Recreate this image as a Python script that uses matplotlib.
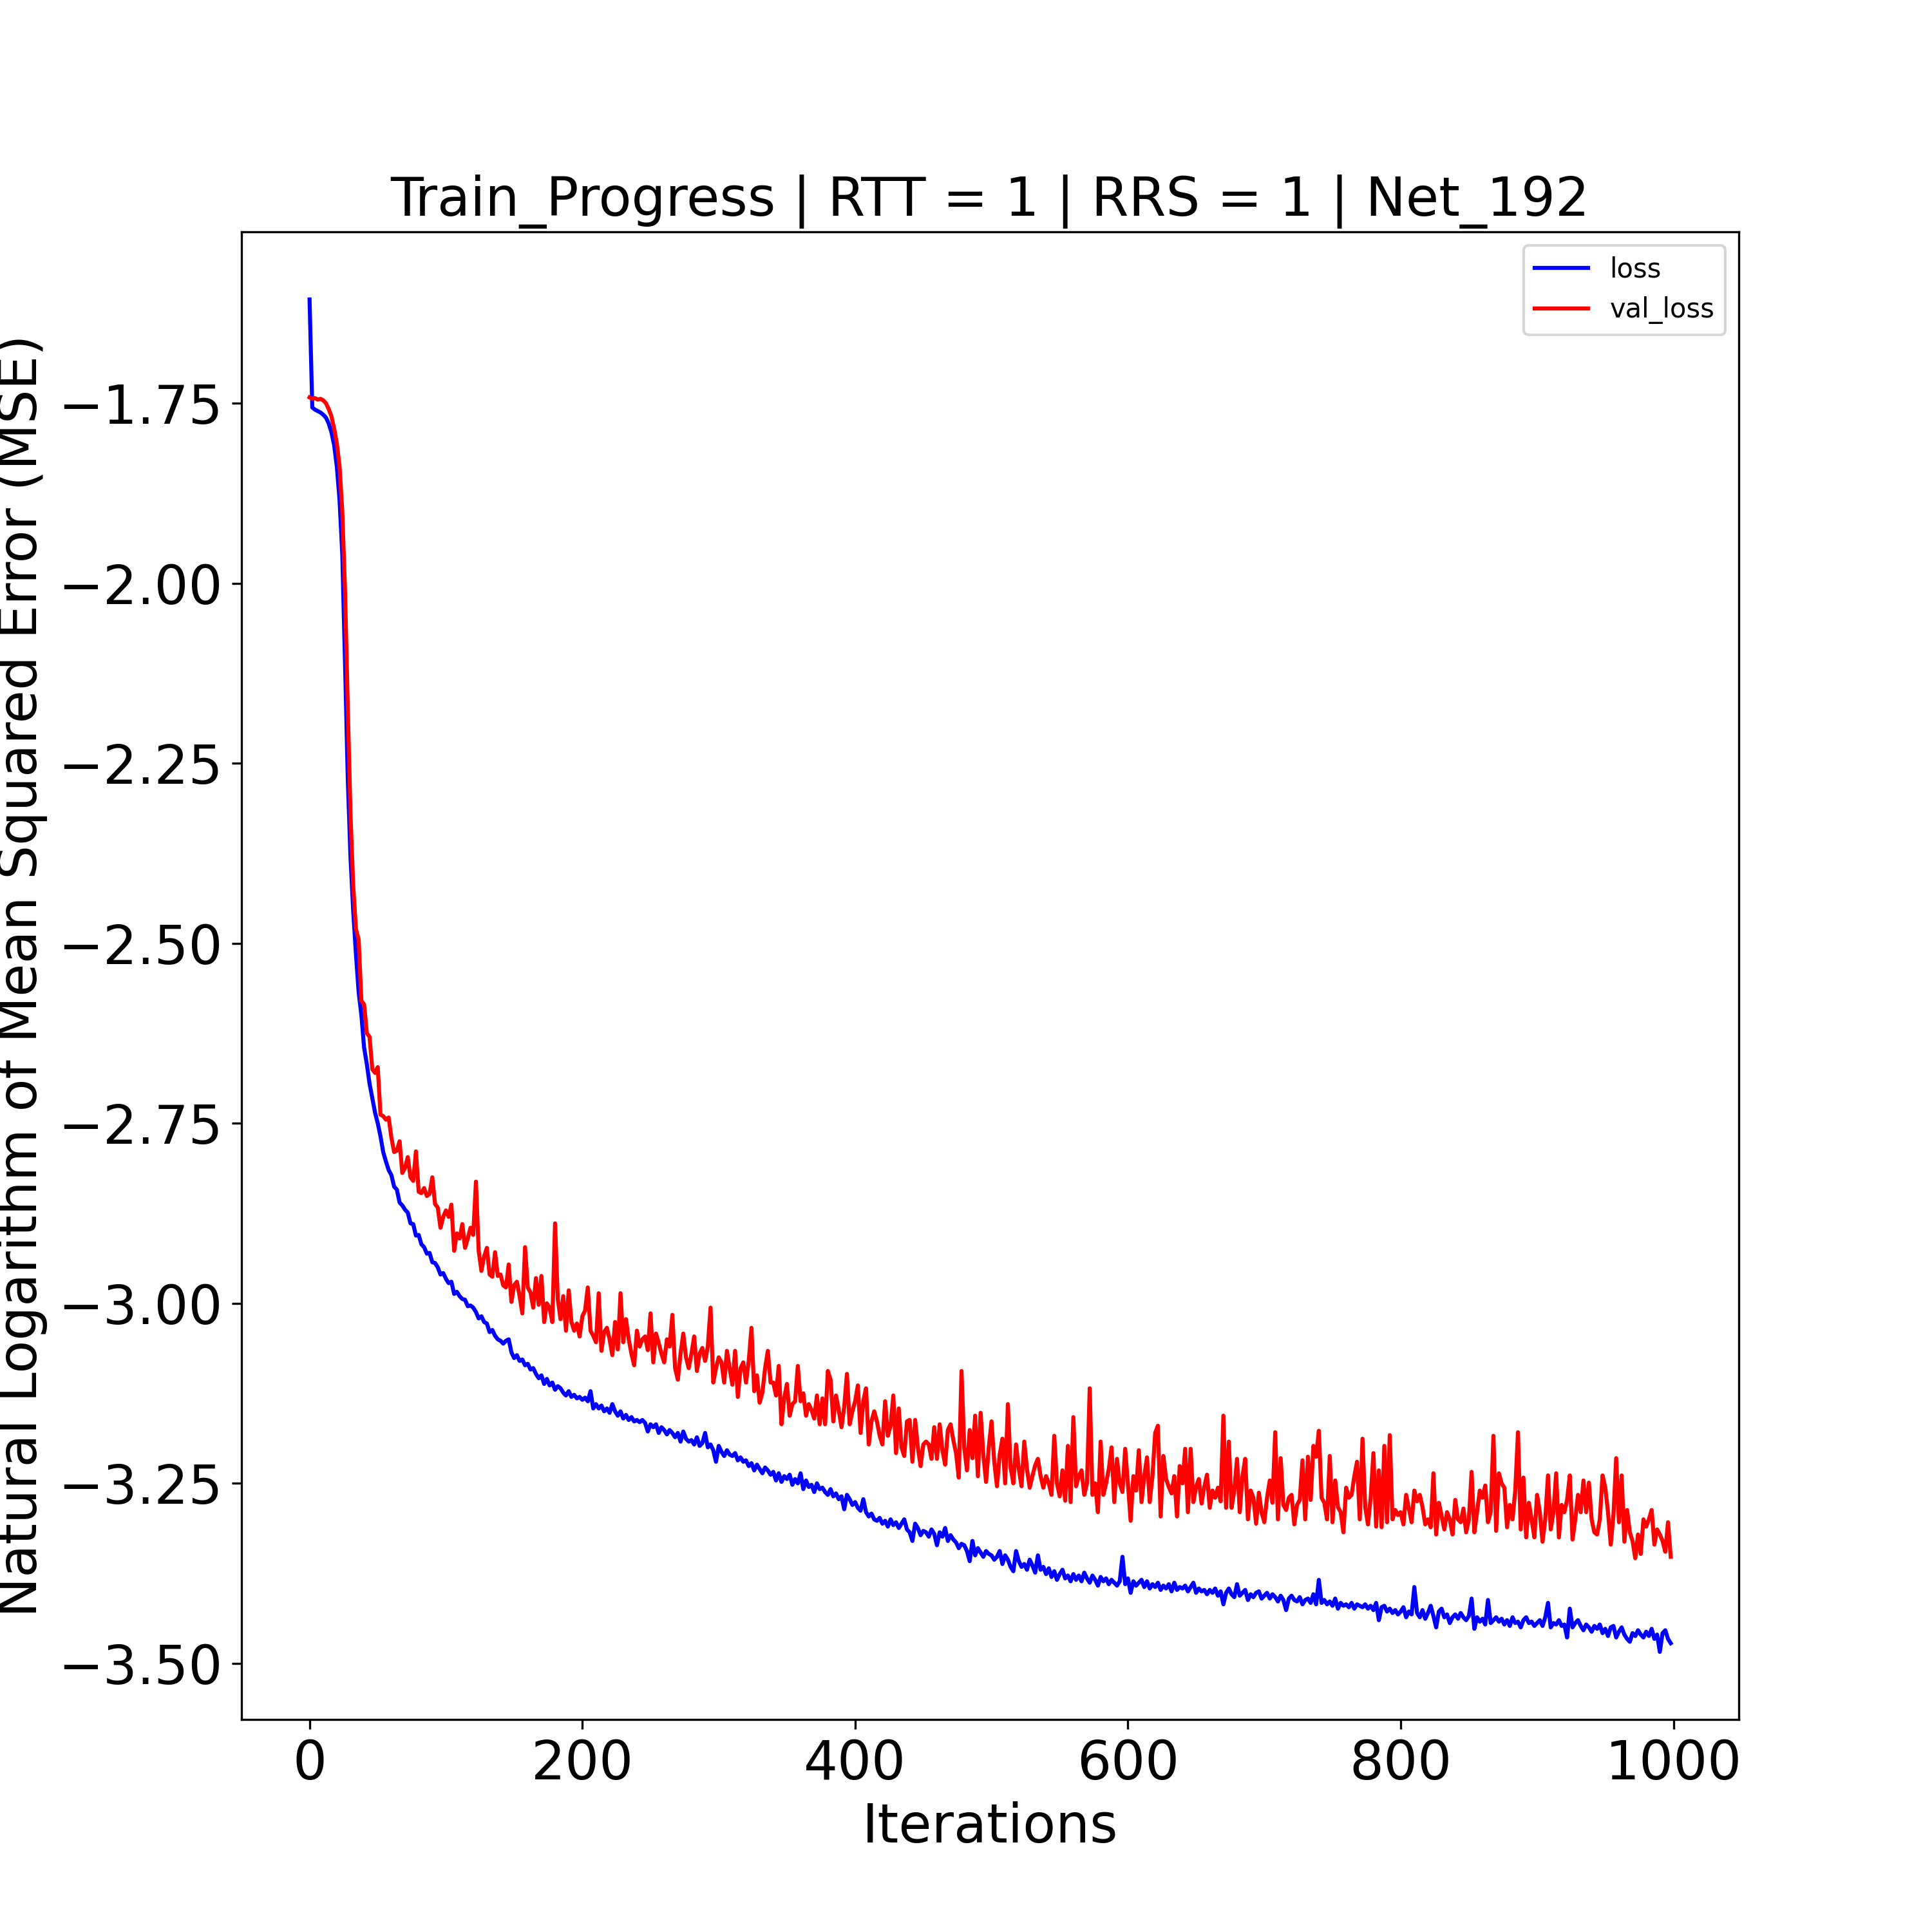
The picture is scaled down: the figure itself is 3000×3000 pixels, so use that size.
import numpy as np
import matplotlib
matplotlib.use("Agg")
import matplotlib.pyplot as plt

# Training loss (ln MSE), sampled every 2 iterations (0, 2, ..., 998)
loss = [
    -1.606, -1.756, -1.759, -1.761, -1.763, -1.766, -1.770, -1.778, -1.790, -1.808,
    -1.838, -1.885, -1.960, -2.110, -2.270, -2.380, -2.455, -2.515, -2.568, -2.600,
    -2.645, -2.668, -2.695, -2.715, -2.735, -2.750, -2.768, -2.790, -2.803, -2.815,
    -2.822, -2.838, -2.842, -2.860, -2.864, -2.870, -2.874, -2.889, -2.890, -2.906,
    -2.905, -2.918, -2.922, -2.931, -2.930, -2.943, -2.944, -2.950, -2.960, -2.958,
    -2.966, -2.972, -2.970, -2.987, -2.984, -2.990, -2.994, -2.995, -3.004, -3.003,
    -3.006, -3.012, -3.021, -3.018, -3.026, -3.028, -3.040, -3.037, -3.045, -3.050,
    -3.052, -3.056, -3.052, -3.050, -3.068, -3.076, -3.072, -3.080, -3.078, -3.086,
    -3.084, -3.092, -3.090, -3.098, -3.104, -3.100, -3.112, -3.105, -3.114, -3.110,
    -3.120, -3.115, -3.118, -3.124, -3.128, -3.122, -3.130, -3.127, -3.132, -3.130,
    -3.134, -3.131, -3.136, -3.122, -3.146, -3.140, -3.146, -3.142, -3.150, -3.146,
    -3.152, -3.140, -3.150, -3.156, -3.150, -3.160, -3.155, -3.162, -3.158, -3.164,
    -3.162, -3.165, -3.162, -3.166, -3.178, -3.168, -3.172, -3.168, -3.180, -3.172,
    -3.176, -3.182, -3.176, -3.180, -3.186, -3.180, -3.192, -3.178, -3.188, -3.192,
    -3.190, -3.196, -3.186, -3.198, -3.194, -3.180, -3.200, -3.196, -3.204, -3.220,
    -3.198, -3.206, -3.212, -3.204, -3.210, -3.212, -3.208, -3.218, -3.214, -3.220,
    -3.218, -3.226, -3.222, -3.232, -3.224, -3.230, -3.236, -3.228, -3.232, -3.238,
    -3.234, -3.246, -3.236, -3.248, -3.240, -3.244, -3.238, -3.252, -3.244, -3.250,
    -3.236, -3.258, -3.246, -3.255, -3.252, -3.262, -3.250, -3.258, -3.256, -3.262,
    -3.266, -3.258, -3.268, -3.264, -3.272, -3.268, -3.286, -3.266, -3.272, -3.280,
    -3.276, -3.284, -3.288, -3.272, -3.290, -3.296, -3.292, -3.300, -3.302, -3.298,
    -3.306, -3.302, -3.310, -3.300, -3.308, -3.304, -3.312, -3.306, -3.300, -3.314,
    -3.318, -3.330, -3.306, -3.312, -3.322, -3.316, -3.318, -3.324, -3.314, -3.320,
    -3.336, -3.318, -3.324, -3.312, -3.330, -3.322, -3.328, -3.332, -3.340, -3.334,
    -3.336, -3.344, -3.358, -3.330, -3.350, -3.340, -3.346, -3.352, -3.344, -3.348,
    -3.350, -3.356, -3.352, -3.344, -3.362, -3.350, -3.356, -3.366, -3.372, -3.344,
    -3.358, -3.366, -3.362, -3.370, -3.356, -3.364, -3.374, -3.350, -3.370, -3.366,
    -3.376, -3.368, -3.380, -3.372, -3.384, -3.376, -3.370, -3.382, -3.378, -3.386,
    -3.376, -3.384, -3.378, -3.386, -3.374, -3.382, -3.388, -3.378, -3.384, -3.392,
    -3.380, -3.386, -3.382, -3.390, -3.384, -3.388, -3.392, -3.386, -3.352, -3.390,
    -3.382, -3.402, -3.386, -3.392, -3.388, -3.384, -3.394, -3.386, -3.396, -3.390,
    -3.394, -3.388, -3.398, -3.392, -3.396, -3.390, -3.400, -3.388, -3.398, -3.394,
    -3.396, -3.392, -3.400, -3.394, -3.388, -3.402, -3.396, -3.400, -3.398, -3.404,
    -3.398, -3.402, -3.396, -3.406, -3.400, -3.418, -3.402, -3.396, -3.404, -3.408,
    -3.390, -3.406, -3.402, -3.398, -3.412, -3.404, -3.408, -3.402, -3.400, -3.410,
    -3.406, -3.402, -3.410, -3.404, -3.408, -3.414, -3.406, -3.412, -3.426, -3.410,
    -3.406, -3.412, -3.414, -3.408, -3.418, -3.412, -3.410, -3.416, -3.404, -3.418,
    -3.384, -3.416, -3.412, -3.418, -3.414, -3.420, -3.410, -3.424, -3.416, -3.420,
    -3.418, -3.422, -3.416, -3.424, -3.418, -3.420, -3.422, -3.418, -3.424, -3.420,
    -3.426, -3.416, -3.440, -3.422, -3.420, -3.428, -3.424, -3.430, -3.426, -3.432,
    -3.428, -3.422, -3.436, -3.428, -3.432, -3.394, -3.430, -3.436, -3.426, -3.438,
    -3.430, -3.420, -3.434, -3.450, -3.428, -3.424, -3.436, -3.432, -3.444, -3.436,
    -3.432, -3.438, -3.430, -3.436, -3.440, -3.434, -3.410, -3.452, -3.436, -3.442,
    -3.438, -3.446, -3.412, -3.444, -3.440, -3.436, -3.442, -3.438, -3.446, -3.440,
    -3.448, -3.436, -3.444, -3.442, -3.450, -3.440, -3.436, -3.444, -3.442, -3.448,
    -3.444, -3.440, -3.448, -3.436, -3.416, -3.450, -3.444, -3.446, -3.440, -3.448,
    -3.446, -3.464, -3.424, -3.450, -3.444, -3.440, -3.448, -3.454, -3.446, -3.450,
    -3.456, -3.448, -3.452, -3.446, -3.458, -3.452, -3.462, -3.450, -3.448, -3.464,
    -3.456, -3.450, -3.460, -3.466, -3.470, -3.458, -3.462, -3.454, -3.460, -3.464,
    -3.456, -3.462, -3.452, -3.466, -3.460, -3.484, -3.458, -3.454, -3.466, -3.472,
]

# Validation loss (ln MSE), same iterations
val_loss = [
    -1.742, -1.744, -1.743, -1.745, -1.744, -1.746, -1.750, -1.758, -1.768, -1.785,
    -1.806, -1.838, -1.900, -2.010, -2.170, -2.320, -2.420, -2.480, -2.495, -2.580,
    -2.585, -2.625, -2.630, -2.675, -2.680, -2.672, -2.738, -2.740, -2.745, -2.742,
    -2.770, -2.790, -2.788, -2.775, -2.819, -2.812, -2.797, -2.825, -2.830, -2.789,
    -2.845, -2.847, -2.840, -2.851, -2.848, -2.825, -2.862, -2.867, -2.895, -2.880,
    -2.871, -2.880, -2.863, -2.927, -2.903, -2.910, -2.890, -2.923, -2.910, -2.895,
    -2.905, -2.831, -2.927, -2.955, -2.935, -2.923, -2.960, -2.963, -2.929, -2.962,
    -2.960, -2.975, -2.978, -2.946, -2.998, -2.975, -2.970, -2.990, -3.014, -2.922,
    -2.978, -2.985, -3.006, -2.965, -3.002, -2.962, -3.026, -3.000, -3.006, -3.026,
    -2.889, -2.994, -3.022, -2.990, -3.038, -2.982, -3.026, -3.038, -3.028, -3.046,
    -3.018, -3.010, -2.978, -3.038, -3.045, -3.054, -2.986, -3.066, -3.040, -3.034,
    -3.050, -3.072, -3.026, -3.064, -2.986, -3.054, -3.022, -3.050, -3.070, -3.086,
    -3.038, -3.060, -3.050, -3.046, -3.065, -3.014, -3.082, -3.042, -3.055, -3.070,
    -3.082, -3.050, -3.060, -3.016, -3.090, -3.106, -3.070, -3.042, -3.075, -3.090,
    -3.070, -3.046, -3.094, -3.070, -3.062, -3.080, -3.060, -3.006, -3.110, -3.090,
    -3.075, -3.082, -3.110, -3.066, -3.090, -3.113, -3.066, -3.130, -3.090, -3.082,
    -3.110, -3.080, -3.034, -3.122, -3.100, -3.138, -3.124, -3.090, -3.066, -3.110,
    -3.110, -3.128, -3.087, -3.168, -3.132, -3.112, -3.156, -3.140, -3.136, -3.087,
    -3.136, -3.125, -3.156, -3.140, -3.148, -3.160, -3.128, -3.168, -3.132, -3.168,
    -3.094, -3.106, -3.164, -3.128, -3.148, -3.172, -3.144, -3.098, -3.168, -3.150,
    -3.136, -3.114, -3.180, -3.136, -3.118, -3.196, -3.164, -3.150, -3.164, -3.184,
    -3.196, -3.136, -3.184, -3.170, -3.128, -3.208, -3.146, -3.200, -3.212, -3.164,
    -3.162, -3.220, -3.162, -3.200, -3.226, -3.196, -3.192, -3.196, -3.216, -3.172,
    -3.216, -3.168, -3.204, -3.224, -3.176, -3.168, -3.190, -3.208, -3.242, -3.094,
    -3.200, -3.232, -3.176, -3.215, -3.156, -3.240, -3.152, -3.210, -3.248, -3.200,
    -3.164, -3.220, -3.254, -3.210, -3.188, -3.250, -3.140, -3.228, -3.250, -3.196,
    -3.230, -3.254, -3.192, -3.230, -3.256, -3.240, -3.225, -3.216, -3.240, -3.256,
    -3.240, -3.250, -3.266, -3.184, -3.250, -3.268, -3.232, -3.274, -3.198, -3.276,
    -3.158, -3.254, -3.240, -3.232, -3.266, -3.250, -3.118, -3.266, -3.250, -3.290,
    -3.192, -3.266, -3.250, -3.230, -3.200, -3.276, -3.216, -3.250, -3.262, -3.202,
    -3.250, -3.302, -3.240, -3.260, -3.204, -3.276, -3.240, -3.214, -3.276, -3.240,
    -3.180, -3.170, -3.296, -3.212, -3.244, -3.255, -3.264, -3.240, -3.296, -3.226,
    -3.250, -3.202, -3.290, -3.202, -3.276, -3.255, -3.244, -3.278, -3.255, -3.238,
    -3.284, -3.260, -3.270, -3.256, -3.275, -3.156, -3.284, -3.192, -3.284, -3.260,
    -3.216, -3.290, -3.240, -3.216, -3.300, -3.260, -3.270, -3.306, -3.263, -3.290,
    -3.304, -3.270, -3.246, -3.277, -3.179, -3.300, -3.215, -3.280, -3.287, -3.270,
    -3.266, -3.307, -3.280, -3.273, -3.218, -3.300, -3.213, -3.273, -3.198, -3.213,
    -3.177, -3.270, -3.277, -3.300, -3.212, -3.304, -3.246, -3.283, -3.290, -3.318,
    -3.256, -3.270, -3.266, -3.240, -3.220, -3.300, -3.188, -3.283, -3.307, -3.270,
    -3.208, -3.310, -3.232, -3.311, -3.198, -3.304, -3.183, -3.300, -3.287, -3.294,
    -3.290, -3.307, -3.266, -3.285, -3.304, -3.260, -3.275, -3.266, -3.283, -3.307,
    -3.300, -3.311, -3.236, -3.321, -3.277, -3.295, -3.314, -3.290, -3.300, -3.321,
    -3.273, -3.300, -3.304, -3.285, -3.318, -3.300, -3.234, -3.318, -3.290, -3.260,
    -3.270, -3.253, -3.304, -3.290, -3.184, -3.316, -3.236, -3.250, -3.256, -3.311,
    -3.280, -3.300, -3.260, -3.179, -3.314, -3.242, -3.325, -3.277, -3.300, -3.325,
    -3.266, -3.290, -3.331, -3.300, -3.239, -3.314, -3.290, -3.236, -3.325, -3.280,
    -3.290, -3.273, -3.239, -3.328, -3.300, -3.266, -3.290, -3.246, -3.290, -3.249,
    -3.300, -3.318, -3.321, -3.300, -3.239, -3.256, -3.290, -3.335, -3.294, -3.215,
    -3.304, -3.239, -3.331, -3.287, -3.318, -3.330, -3.354, -3.321, -3.348, -3.300,
    -3.310, -3.300, -3.287, -3.335, -3.314, -3.321, -3.330, -3.345, -3.304, -3.352,
]

iterations = np.arange(len(loss)) * 2

title = "Train_Progress | RTT = 1 | RRS = 1 | Net_192"
xlabel = "Iterations"
ylabel = "Natural Logarithm of Mean Squared Error (MSE)"

fig, ax = plt.subplots(figsize=(10, 10), dpi=300)
ax.plot(iterations, loss, color="blue", label="loss")
ax.plot(iterations[:len(val_loss)], val_loss, color="red", label="val_loss")

ax.set_title(title, fontsize=20)
ax.set_xlabel(xlabel, fontsize=20)
ax.set_ylabel(ylabel, fontsize=20)
ax.tick_params(axis="both", labelsize=20)
ax.set_yticks([-1.75, -2.00, -2.25, -2.50, -2.75, -3.00, -3.25, -3.50])
ax.legend(loc="upper right")

fig.savefig("out.png", dpi=300)
